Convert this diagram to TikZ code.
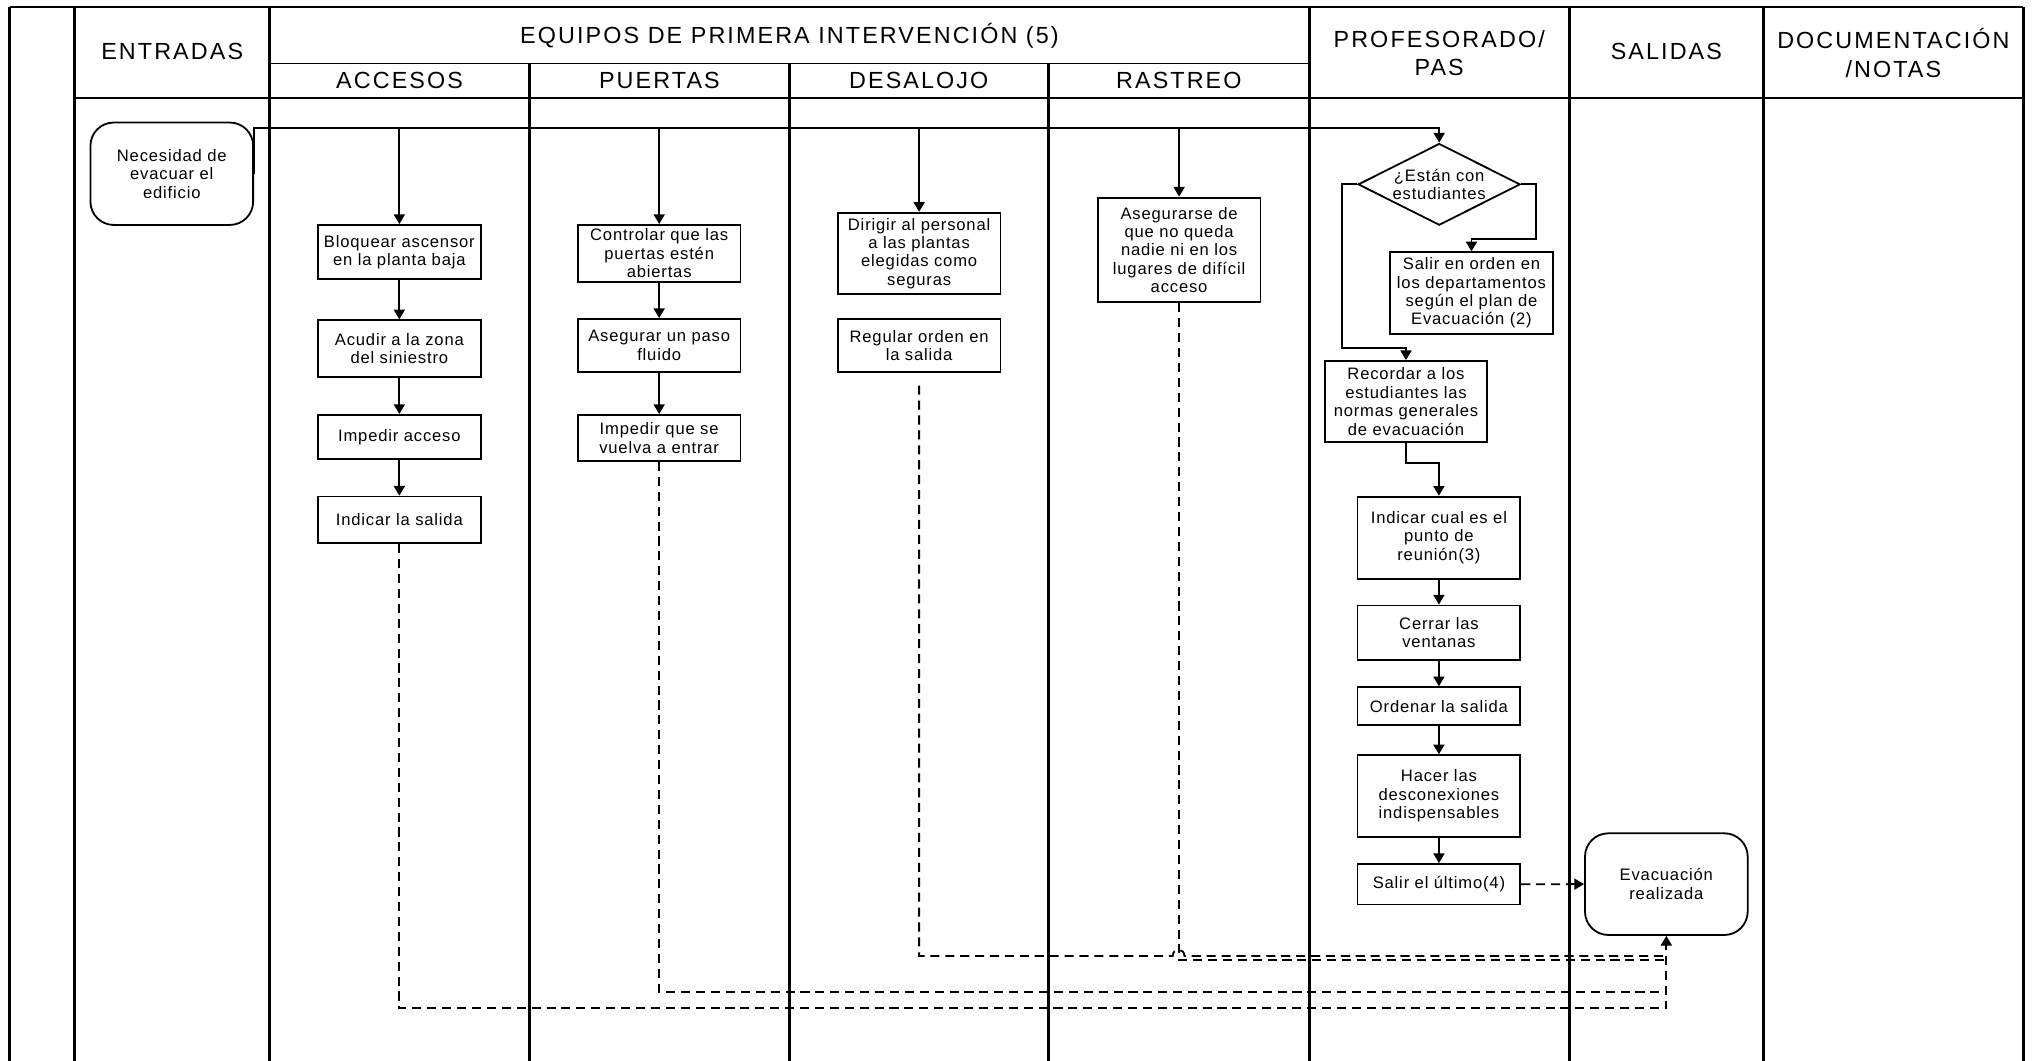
\documentclass[tikz,border=0pt]{standalone}
\usepackage{fontspec}
\setmainfont{Liberation Sans}
\newfontfamily\cajafont[LetterSpace=5]{Liberation Sans}
\newfontfamily\cabfont[LetterSpace=9]{Liberation Sans}
\usetikzlibrary{arrows.meta, shapes.geometric}

\tikzset{
  carril/.style={line width=2pt},
  rejilla/.style={line width=1.4pt},
  caja/.style={draw, line width=1.4pt, minimum width=125.5pt, inner sep=1pt, align=center,
    font=\cajafont\fontsize{12.8}{14.2}\selectfont},
  terminal/.style={caja, rounded corners=18pt},
  decision/.style={caja, diamond, aspect=2, inner sep=0pt, minimum width=125pt, minimum height=63pt},
  cabecera/.style={align=center, font=\cabfont\fontsize{18}{22}\selectfont},
  flujo/.style={line width=1.4pt, -{Triangle[length=7.5pt, width=8.5pt]}},
  flujodisc/.style={flujo, dash pattern=on 7pt off 4.5pt},
  tramodisc/.style={line width=1.4pt, dash pattern=on 7pt off 4.5pt}
}

\begin{document}
\begin{tikzpicture}[x=1pt, y=-1pt]
\useasboundingbox (0,0) rectangle (1568,818);

% ---- carriles y cabecera
\draw[rejilla] (7.5,5.7) -- (1560.5,5.7);
\draw[rejilla] (208,49) -- (1009.8,49);
\draw[rejilla] (57.5,75.8) -- (1560.5,75.8);
\foreach \x in {7.5, 57.5, 208, 1009.8, 1210.3, 1360.2, 1560.5}
  \draw[carril] (\x,5.7) -- (\x,818);
\foreach \x in {408.5, 608.7, 808.6}
  \draw[carril] (\x,49) -- (\x,818);

\node[cabecera] (hEnt) at (132.8,40) {ENTRADAS};
\node[cabecera] (hEqu) at (608.9,27.5) {EQUIPOS DE PRIMERA INTERVENCIÓN (5)};
\foreach \n/\x/\t in {hAcc/308.2/ACCESOS, hPue/508.6/PUERTAS, hDes/708.6/DESALOJO, hRas/909.2/RASTREO}
  \node[cabecera] (\n) at (\x,62) {\t};
\node[cabecera] (hPro) at (1110,41) {PROFESORADO/\\PAS};
\node[cabecera] (hSal) at (1285.2,40) {SALIDAS};
\node[cabecera] (hDoc) at (1460.3,41) {DOCUMENTACIÓN\\/NOTAS};

% ============================================== entradas
\node[terminal, minimum height=79pt] (nec) at (132.5,134) {Necesidad de\\evacuar el\\edificio};

% ============================================== accesos
\node[caja, minimum height=42pt] (bloq) at (308,194.5) {Bloquear ascensor\\en la planta baja};
\node[caja, minimum height=44pt] (acud) at (308,269) {Acudir a la zona\\del siniestro};
\node[caja, minimum height=34pt] (impac) at (308,337) {Impedir acceso};
\node[caja, minimum height=36pt] (indsal) at (308,401) {Indicar la salida};

% ============================================== puertas
\node[caja, minimum height=44pt] (contr) at (508.4,195.5) {Controlar que las\\puertas estén\\abiertas};
\node[caja, minimum height=40.7pt] (asegp) at (508.4,266.4) {Asegurar un paso\\fluido};
\node[caja, minimum height=35.5pt] (imped) at (508.4,337.8) {Impedir que se\\vuelva a entrar};

% ============================================== desalojo
\node[caja, minimum height=62.7pt] (dirig) at (708.9,195.4) {Dirigir al personal\\a las plantas\\elegidas como\\seguras};
\node[caja, minimum height=40.7pt] (regul) at (708.9,266.4) {Regular orden en\\la salida};

% ============================================== rastreo
\node[caja, minimum height=80.8pt] (aseg) at (909.4,192.8) {Asegurarse de\\que no queda\\nadie ni en los\\lugares de difícil\\acceso};

% ============================================== profesorado / pas
\node[decision] (dia) at (1110,142.2) {¿Están con\\estudiantes};
\node[caja, minimum height=62.8pt] (salord) at (1134.9,226) {Salir en orden en\\los departamentos\\según el plan de\\Evacuación (2)};
\node[caja, minimum height=62.7pt] (recor) at (1084.4,309.8) {Recordar a los\\estudiantes las\\normas generales\\de evacuación};
\node[caja, minimum height=63.3pt] (indcual) at (1109.8,414.7) {Indicar cual es el\\punto de\\reunión(3)};
\node[caja, minimum height=42pt] (cerrar) at (1109.8,488) {Cerrar las\\ventanas};
\node[caja, minimum height=29.4pt] (orden) at (1109.8,544.7) {Ordenar la salida};
\node[caja, minimum height=62.8pt] (hacer) at (1109.8,613.9) {Hacer las\\desconexiones\\indispensables};
\node[caja, minimum height=31.3pt] (salult) at (1109.8,682) {Salir el último(4)};

% ============================================== salidas
\node[terminal, minimum height=78.4pt] (evac) at (1285.2,681.9) {Evacuación\\realizada};

% ---- flujo principal
\coordinate (bus) at (0,99);
\draw[flujo] (nec.east) |- (dia.north |- bus) -- (dia.north);
\foreach \b in {bloq, contr, dirig, aseg}
  \draw[flujo] (\b.north |- bus) -- (\b.north);
\foreach \a/\b in {bloq/acud, acud/impac, impac/indsal, contr/asegp, asegp/imped,
                   indcual/cerrar, cerrar/orden, orden/hacer, hacer/salult}
  \draw[flujo] (\a) -- (\b);

% ---- decision
\draw[flujo] (dia.east) -| (1184.7,184.3) -| (salord.north);
\draw[flujo] (dia.west) -| (1035,268.1) -| (recor.north);
\draw[flujo] (recor.south) -- ++(0,15.5) -| (indcual.north);

% ---- retornos discontinuos
\coordinate (rA) at (0,777.7);
\coordinate (rB) at (0,764.8);
\coordinate (rC) at (0,737.3);
\coordinate (rD) at (0,740.7);
\draw[flujodisc] (indsal.south) |- (evac.south |- rA) -- (evac.south);
\draw[tramodisc] (imped.south) |- (evac.south |- rB);
\draw[tramodisc, shorten <=10pt] (regul.south) |- (904.5,737.3)
      .. controls (904.5,731) and (913.5,731) .. (913.5,737.3) -- (evac.south |- rC);
\draw[tramodisc] (aseg.south) |- (evac.south |- rD);
\draw[flujodisc] (salult.east) -- (evac.west);

\end{tikzpicture}
\end{document}
